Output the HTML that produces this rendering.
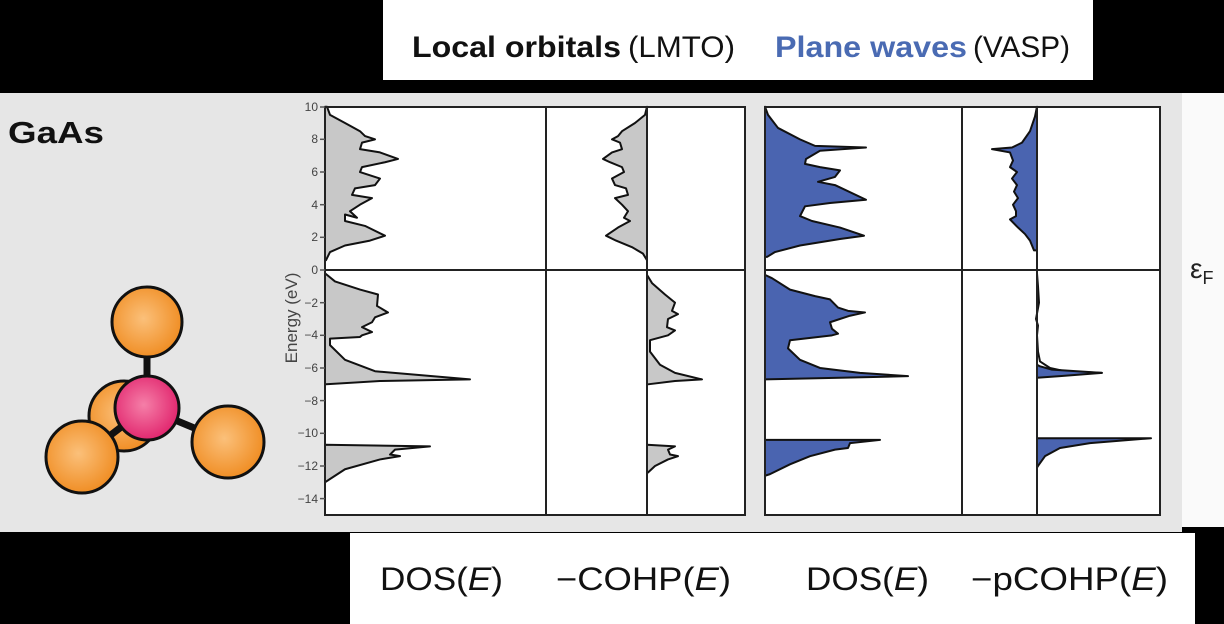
<!DOCTYPE html>
<html><head><meta charset="utf-8"><style>
html,body{margin:0;padding:0;background:#000;}
svg{display:block;}
</style></head><body>
<svg width="1224" height="624" viewBox="0 0 1224 624" xmlns="http://www.w3.org/2000/svg" font-family="'Liberation Sans Narrow','Liberation Sans',sans-serif">
<rect x="0" y="0" width="1224" height="624" fill="#000"/>
<rect x="383" y="0" width="710" height="80" fill="#fff"/>
<text y="57" font-size="30" fill="#111"><tspan x="412" font-weight="bold" textLength="209" lengthAdjust="spacingAndGlyphs">Local orbitals</tspan><tspan x="628" textLength="107" lengthAdjust="spacingAndGlyphs">(LMTO)</tspan><tspan x="775" font-weight="bold" fill="#4a6bb3" textLength="192" lengthAdjust="spacingAndGlyphs">Plane waves</tspan><tspan x="973" textLength="97" lengthAdjust="spacingAndGlyphs">(VASP)</tspan></text>
<rect x="0" y="93" width="1182" height="439" fill="#e6e6e6"/>
<rect x="1182" y="93" width="42" height="434" fill="#fafafa"/>
<rect x="350" y="533" width="845" height="91" fill="#fff"/>
<text x="8" y="143" font-size="31" font-weight="bold" fill="#111" font-family="'Liberation Sans',sans-serif" textLength="96" lengthAdjust="spacingAndGlyphs">GaAs</text>
<defs>
<radialGradient id="og" cx="0.45" cy="0.45" r="0.6"><stop offset="0" stop-color="#fbc07a"/><stop offset="1" stop-color="#ef8a1e"/></radialGradient>
<radialGradient id="pg" cx="0.45" cy="0.45" r="0.6"><stop offset="0" stop-color="#f57fa8"/><stop offset="1" stop-color="#e0206a"/></radialGradient>
</defs>
<g stroke="#111" stroke-width="3">
<line x1="147" y1="340" x2="147" y2="390" stroke-width="7"/>
<circle cx="147" cy="322" r="35" fill="url(#og)"/>
<circle cx="124" cy="416" r="35" fill="url(#og)"/>
<line x1="146" y1="408" x2="228" y2="442" stroke-width="7"/>
<line x1="146" y1="408" x2="82" y2="457" stroke-width="7"/>
<circle cx="228" cy="442" r="36" fill="url(#og)"/>
<circle cx="147" cy="408" r="32" fill="url(#pg)"/>
<circle cx="82" cy="457" r="36" fill="url(#og)"/>
</g>
<rect x="325" y="107" width="420" height="408" fill="#fff"/>
<rect x="765" y="107" width="395" height="408" fill="#fff"/>
<g transform="translate(0,270) scale(1,-16.33)" stroke="#111" stroke-width="2" stroke-linejoin="round">
<path vector-effect="non-scaling-stroke" fill="#c8c8c8" d="M325,10 L327,10 L330,9.5 L345,9 L360,8.5 L365,8.2 L375,8 L362,7.8 L360,7.4 L380,7.2 L398,6.8 L385,6.6 L362,6.3 L360,6 L380,5.6 L375,5.2 L355,5 L352,4.6 L372,4.4 L360,4 L350,3.6 L357,3.2 L345,3.4 L345,3 L365,2.7 L385,2.1 L370,1.8 L345,1.5 L330,1.1 L326,0.6 L325,0.6 Z"/>
<path vector-effect="non-scaling-stroke" fill="#c8c8c8" d="M325,-0.2 L335,-0.7 L360,-1.2 L378,-1.5 L377,-2.2 L388,-2.6 L375,-2.9 L372,-3.2 L362,-3.5 L372,-3.8 L362,-4 L360,-4.1 L330,-4.2 L330,-4.6 L345,-5.5 L375,-6.2 L470,-6.7 L380,-6.8 L326,-7 L325,-7 Z"/>
<path vector-effect="non-scaling-stroke" fill="#c8c8c8" d="M325,-10.7 L430,-10.8 L395,-11 L390,-11.3 L400,-11.4 L380,-11.6 L345,-12.2 L330,-12.8 L325,-13 Z"/>
<path vector-effect="non-scaling-stroke" fill="#c8c8c8" d="M647,10 L645,9.5 L635,9 L622,8.5 L618,8.2 L612,8 L620,7.8 L622,7.4 L612,7.2 L603,6.8 L610,6.6 L622,6.3 L624,6 L612,5.6 L615,5.2 L626,5 L628,4.6 L615,4.4 L622,4 L628,3.6 L624,3.2 L630,3 L618,2.6 L606,2.1 L616,1.8 L632,1.4 L643,1 L647,0.6 Z"/>
<path vector-effect="non-scaling-stroke" fill="#c8c8c8" d="M647,-0.3 L652,-0.8 L665,-1.5 L675,-2 L672,-2.5 L678,-2.7 L668,-3 L667,-3.5 L675,-3.7 L668,-4 L650,-4.3 L650,-5 L660,-5.8 L675,-6.3 L702,-6.7 L675,-6.8 L648,-7 L647,-7 Z"/>
<path vector-effect="non-scaling-stroke" fill="#c8c8c8" d="M647,-10.7 L675,-10.8 L668,-11 L670,-11.3 L678,-11.4 L668,-11.6 L655,-12 L648,-12.4 L647,-12.4 Z"/>
<path vector-effect="non-scaling-stroke" fill="#4a64b0" d="M765,10 L768,9.5 L778,8.7 L800,8 L815,7.6 L866,7.5 L820,7.3 L806,6.8 L805,6.5 L820,6.3 L840,6.1 L835,5.7 L818,5.4 L835,5.2 L866,4.3 L830,4.1 L805,3.9 L800,3.3 L812,3 L840,2.6 L864,2.1 L840,1.9 L800,1.5 L775,1.1 L767,0.8 L765,0.8 Z"/>
<path vector-effect="non-scaling-stroke" fill="#4a64b0" d="M765,-0.3 L772,-0.5 L790,-1.2 L815,-1.6 L830,-1.8 L838,-2.3 L848,-2.5 L865,-2.6 L850,-2.8 L830,-3.2 L832,-3.6 L838,-3.9 L832,-4 L790,-4.3 L788,-4.8 L800,-5.5 L820,-6 L860,-6.3 L908,-6.5 L840,-6.6 L765,-6.7 Z"/>
<path vector-effect="non-scaling-stroke" fill="#4a64b0" d="M765,-10.4 L880,-10.4 L850,-10.6 L848,-10.9 L835,-11 L810,-11.4 L790,-11.9 L770,-12.5 L765,-12.6 Z"/>
<path vector-effect="non-scaling-stroke" fill="#4a64b0" d="M1037,10 L1035,9.4 L1030,8.5 L1022,7.8 L1012,7.5 L992,7.4 L1010,7.2 L1013,6.7 L1010,6.3 L1017,6 L1012,5.6 L1017,5.2 L1014,4.8 L1018,4.4 L1013,4 L1016,3.6 L1016,3.3 L1010,3.1 L1018,2.6 L1025,2.2 L1030,1.8 L1034,1.2 L1037,1.2 Z"/>
<path vector-effect="non-scaling-stroke" fill="none" d="M1037,-0.2 L1038,-1 L1039,-2 L1036,-3 L1038,-3.4 L1037,-4 L1038,-5 L1040,-5.6 L1050,-6 L1065,-6.2 L1102,-6.3"/>
<path vector-effect="non-scaling-stroke" fill="#4a64b0" d="M1037,-5.8 L1040,-5.9 L1052,-6.1 L1102,-6.3 L1060,-6.5 L1037,-6.6 Z"/>
<path vector-effect="non-scaling-stroke" fill="#4a64b0" d="M1037,-10.3 L1151,-10.3 L1090,-10.6 L1060,-10.9 L1045,-11.4 L1038,-12 L1037,-12.1 Z"/>
</g>
<g stroke="#222" stroke-width="2" fill="none">
<rect x="325" y="107" width="420" height="408"/>
<line x1="546" y1="107" x2="546" y2="515"/>
<line x1="647" y1="107" x2="647" y2="515"/>
<line x1="325" y1="270" x2="745" y2="270"/>
<rect x="765" y="107" width="395" height="408"/>
<line x1="962" y1="107" x2="962" y2="515"/>
<line x1="1037" y1="107" x2="1037" y2="515"/>
<line x1="765" y1="270" x2="1160" y2="270"/>
</g>
<g stroke="#555" stroke-width="1.5">
<line x1="320" y1="107" x2="325" y2="107"/><line x1="320" y1="139.3" x2="325" y2="139.3"/><line x1="320" y1="172" x2="325" y2="172"/><line x1="320" y1="204.7" x2="325" y2="204.7"/><line x1="320" y1="237.3" x2="325" y2="237.3"/><line x1="320" y1="270" x2="325" y2="270"/><line x1="320" y1="302.7" x2="325" y2="302.7"/><line x1="320" y1="335.3" x2="325" y2="335.3"/><line x1="320" y1="368" x2="325" y2="368"/><line x1="320" y1="400.6" x2="325" y2="400.6"/><line x1="320" y1="433.3" x2="325" y2="433.3"/><line x1="320" y1="466" x2="325" y2="466"/><line x1="320" y1="498.6" x2="325" y2="498.6"/>
</g>
<g font-size="12" fill="#444" text-anchor="end" font-family="'Liberation Sans',sans-serif">
<text x="318" y="111">10</text><text x="318" y="143">8</text><text x="318" y="176">6</text><text x="318" y="209">4</text><text x="318" y="241">2</text><text x="318" y="274">0</text><text x="318" y="307">−2</text><text x="318" y="339">−4</text><text x="318" y="372">−6</text><text x="318" y="405">−8</text><text x="318" y="437">−10</text><text x="318" y="470">−12</text><text x="318" y="503">−14</text>
</g>
<text transform="translate(297,318) rotate(-90)" font-size="17" fill="#444" text-anchor="middle" font-family="'Liberation Sans',sans-serif">Energy (eV)</text>
<text x="1190" y="278" font-size="28" fill="#222" font-family="'Liberation Sans',sans-serif">ε<tspan font-size="18" dy="6">F</tspan></text>
<g font-size="32" fill="#111">
<text x="380" y="590" textLength="123" lengthAdjust="spacingAndGlyphs">DOS(<tspan font-style="italic">E</tspan>)</text>
<text x="556" y="590" textLength="175" lengthAdjust="spacingAndGlyphs">−COHP(<tspan font-style="italic">E</tspan>)</text>
<text x="806" y="590" textLength="123" lengthAdjust="spacingAndGlyphs">DOS(<tspan font-style="italic">E</tspan>)</text>
<text x="971" y="590" textLength="197" lengthAdjust="spacingAndGlyphs">−pCOHP(<tspan font-style="italic">E</tspan>)</text>
</g>
</svg>
</body></html>
